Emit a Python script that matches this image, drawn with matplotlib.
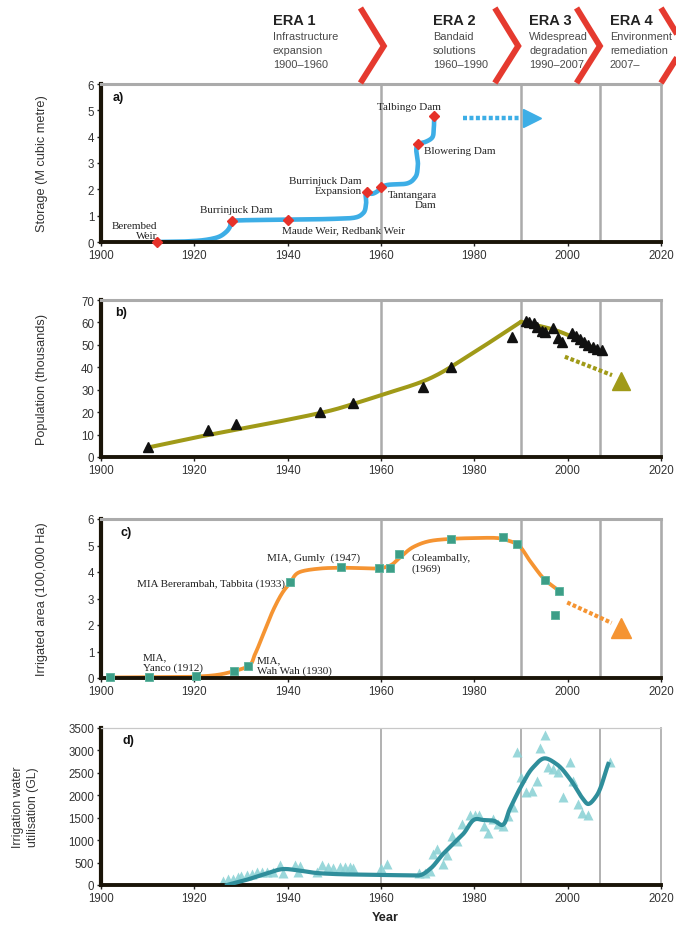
import numpy as np
import matplotlib
matplotlib.use("Agg")
import matplotlib.pyplot as plt
from matplotlib.transforms import blended_transform_factory

plt.rcParams["font.family"] = ["Liberation Sans", "DejaVu Sans"]

# ---------------- data ----------------
year_range = (1900, 2020)
era_ends = [1960, 1990, 2007]
era_titles = ["ERA 1", "ERA 2", "ERA 3", "ERA 4"]
era_texts = ["Infrastructure\nexpansion\n1900\u20131960",
             "Bandaid\nsolutions\n1960\u20131990",
             "Widespread\ndegradation\n1990\u20132007",
             "Environment\nremediation\n2007\u2013"]

# a) storage
dam_names = ["Berembed\nWeir", "Burrinjuck Dam", "Maude Weir, Redbank Weir",
             "Burrinjuck Dam\nExpansion", "Tantangara\nDam", "Blowering Dam",
             "Talbingo Dam"]
dam_years = [1912, 1928, 1940, 1957, 1960, 1968, 1971.4]
dam_storage = [0.0, 0.80, 0.85, 1.88, 2.08, 3.72, 4.78]
storage_years = [1912, 1918, 1922, 1925, 1926.8, 1927.7, 1928,
                 1929.5, 1940, 1950, 1954.5, 1956.2, 1956.8, 1957,
                 1958, 1959.2, 1960, 1961.5, 1965.5, 1967.3, 1967.9, 1968,
                 1969.5, 1970.9, 1971.3, 1971.4]
storage_values = [0.0, 0.02, 0.07, 0.18, 0.38, 0.60, 0.80,
                  0.82, 0.85, 0.88, 0.93, 1.10, 1.45, 1.88,
                  1.83, 1.92, 2.08, 2.17, 2.22, 2.45, 2.90, 3.72,
                  3.80, 3.95, 4.30, 4.78]
storage_trend_years = [1977.6, 1990.0, 1992.3]
storage_trend_values = [4.72, 4.72, 4.72]

# b) population
pop_years = [1910, 1923, 1929, 1947, 1954, 1969, 1975, 1988, 1991, 1991.8,
             1992.7, 1993.5, 1994.4, 1995.1, 1996.9, 1998.0, 1998.7, 2000.9,
             2001.8, 2002.6, 2003.5, 2004.4, 2005.4, 2006.2, 2007.3]
pop_values = [4.6, 12.0, 14.7, 19.9, 23.9, 31.1, 40.0, 53.5, 60.8, 60.3,
              59.6, 58.1, 56.3, 55.6, 57.4, 52.9, 51.4, 55.1,
              53.8, 52.6, 51.4, 49.9, 48.9, 48.2, 47.7]
# fitted growth (to the 1990 peak) and decline (after it)
pop_rise_years = [1910, 1920, 1930, 1940, 1949, 1954, 1960, 1970, 1980, 1990]
pop_rise_values = [4.2, 8.6, 12.6, 16.6, 20.6, 23.6, 27.6, 34.6, 46.8, 60.3]
pop_fall_years = [1990, 1996.6, 2000.5, 2006.2]
pop_fall_values = [60.3, 57.0, 54.0, 47.8]
pop_trend_years = [1999.4, 2009.5, 2011.4]
pop_trend_values = [44.7, 36.5, 34.0]

# c) irrigated area
irr_years = [1902, 1910.3, 1920.4, 1928.5, 1931.6, 1940.5, 1951.5, 1959.6,
             1961.9, 1963.9, 1974.9, 1986.1, 1989.2, 1995.1, 1998.1, 1997.3]
irr_values = [0.03, 0.04, 0.06, 0.28, 0.44, 3.62, 4.19, 4.16,
              4.16, 4.69, 5.25, 5.32, 5.04, 3.71, 3.30, 2.36]
irr_fit_years = [1902, 1910, 1920, 1925, 1928.5, 1931.6, 1933, 1935, 1937,
                 1939, 1940.5, 1942.6, 1946.9, 1951.5, 1955, 1959.6, 1961.9,
                 1963.9, 1967, 1970.5, 1975, 1980, 1985, 1987, 1989.2, 1992,
                 1995.1, 1998.1]
irr_fit_values = [0.02, 0.03, 0.05, 0.12, 0.26, 0.45, 0.90, 1.75, 2.60,
                  3.25, 3.58, 4.00, 4.13, 4.16, 4.15, 4.14, 4.24,
                  4.52, 4.95, 5.17, 5.25, 5.28, 5.28, 5.20, 5.04, 4.40,
                  3.71, 3.30]
irr_trend_years = [1999.9, 2009.4, 2011.4]
irr_trend_values = [2.85, 2.08, 1.89]
irr_notes = ["MIA,\nYanco (1912)", "MIA,\nWah Wah (1930)",
             "MIA Bererambah, Tabbita (1933)", "MIA, Gumly  (1947)",
             "Coleambally,\n(1969)"]

# d) irrigation water utilisation
water_years = [1926.2, 1927.3, 1928.3, 1929.4, 1930.1, 1931.2, 1932.3, 1933.4,
               1934.4, 1935.5, 1936.9, 1938.4, 1939.1, 1941.6, 1942.2, 1942.6,
               1946.2, 1947.3, 1948.7, 1949.8, 1951.2, 1952.3, 1953.4, 1954.1,
               1960.1, 1961.2, 1968.2, 1969.4, 1970.5, 1971.2, 1972.1, 1973.2,
               1974.1, 1975.2, 1976.2, 1977.3, 1979.1, 1980.1, 1981.1, 1982.1,
               1983.0, 1984.1, 1985.1, 1986.2, 1987.3, 1988.2, 1989.2, 1990.1,
               1991.1, 1992.3, 1993.4, 1994.1, 1995.1, 1995.8, 1996.8, 1998.0,
               1999.1, 2000.4, 2001.2, 2002.3, 2003.0, 2004.4, 2009.1]
water_values = [96, 134, 134, 171, 193, 223, 245, 282,
                282, 282, 282, 446, 268, 446, 290, 431,
                282, 446, 394, 372, 394, 394, 394, 372,
                372, 468, 268, 268, 319, 691, 802, 468,
                669, 1100, 987, 1360, 1560, 1560, 1560, 1308,
                1152, 1471, 1360, 1322, 1545, 1732, 2958, 2400,
                2080, 2102, 2325, 3047, 3344, 2624, 2586, 2526,
                1955, 2735, 2325, 1806, 1605, 1560, 2748]
water_fit_years = [1927, 1931, 1935, 1939, 1942, 1946, 1950, 1955, 1960,
                   1966, 1968.2, 1970.5, 1973.3, 1977.6, 1980.4, 1981.9,
                   1984.1, 1985.9, 1987.6, 1990.1, 1992.6, 1995.1, 1997.6,
                   2000.5, 2003.3, 2004.4, 2006.2, 2008.7]
water_fit_values = [0, 110, 240, 355, 330, 270, 245, 232, 225,
                    215, 215, 357, 691, 1137, 1471, 1449,
                    1434, 1337, 1694, 2214, 2623, 2824, 2697,
                    2363, 1917, 1806, 1991, 2697]


# ---------------- helpers ----------------
def smooth_curve(xs, ys, ymax, n=24):
    """Centripetal Catmull-Rom spline through the given knots."""
    xs = np.asarray(xs, float)
    ys = np.asarray(ys, float)
    P = np.column_stack([(xs - year_range[0]) / (year_range[1] - year_range[0]),
                         ys / ymax])
    P = np.vstack([2 * P[0] - P[1], P, 2 * P[-1] - P[-2]])
    out = []
    for i in range(1, len(P) - 2):
        p0, p1, p2, p3 = P[i - 1:i + 3]
        t0 = 0.0
        t1 = t0 + max(np.linalg.norm(p1 - p0), 1e-9) ** 0.5
        t2 = t1 + max(np.linalg.norm(p2 - p1), 1e-9) ** 0.5
        t3 = t2 + max(np.linalg.norm(p3 - p2), 1e-9) ** 0.5
        t = np.linspace(t1, t2, n, endpoint=False)[:, None]
        A1 = (t1 - t) / (t1 - t0) * p0 + (t - t0) / (t1 - t0) * p1
        A2 = (t2 - t) / (t2 - t1) * p1 + (t - t1) / (t2 - t1) * p2
        A3 = (t3 - t) / (t3 - t2) * p2 + (t - t2) / (t3 - t2) * p3
        B1 = (t2 - t) / (t2 - t0) * A1 + (t - t0) / (t2 - t0) * A2
        B2 = (t3 - t) / (t3 - t1) * A2 + (t - t1) / (t3 - t1) * A3
        out.append((t2 - t) / (t2 - t1) * B1 + (t - t1) / (t2 - t1) * B2)
    out.append(P[-2][None])
    pts = np.vstack(out)
    return (pts[:, 0] * (year_range[1] - year_range[0]) + year_range[0],
            pts[:, 1] * ymax)


W, H = 676, 929
fig = plt.figure(figsize=(W / 100, H / 100), dpi=100)


def px_axes(left, top, right, bottom):
    return fig.add_axes([left / W, 1 - bottom / H, (right - left) / W,
                         (bottom - top) / H])


TICK_COLOR = "#333333"
SERIF = ["Liberation Serif", "DejaVu Serif"]


def style_axes(ax, ymax, ystep, thin=False):
    ax.set_xlim(*year_range)
    ax.set_ylim(0, ymax)
    ax.set_xticks(np.arange(1900, 2021, 20))
    ax.set_yticks(np.arange(0, ymax + ystep / 2, ystep))
    ax.spines["left"].set_color("#1a1408")
    ax.spines["left"].set_linewidth(3.0)
    ax.spines["bottom"].set_color("#1a1408")
    ax.spines["bottom"].set_linewidth(2.8)
    if thin:
        ax.spines["top"].set_color("#c8c8c8")
        ax.spines["top"].set_linewidth(0.9)
        ax.spines["right"].set_color("#b0b0b0")
        ax.spines["right"].set_linewidth(1.3)
    else:
        ax.spines["top"].set_color("#ababab")
        ax.spines["top"].set_linewidth(2.2)
        ax.spines["right"].set_color("#ababab")
        ax.spines["right"].set_linewidth(1.9)
    ax.tick_params(axis="both", labelsize=8.3, labelcolor=TICK_COLOR,
                   color="#222222", length=3, width=1.0, pad=2)
    for yr in era_ends:
        ax.axvline(yr, color="#ababab", lw=1.3 if thin else 1.8, zorder=0.5)


note_kw = dict(fontsize=8, family=SERIF, color="#222222", zorder=4)
ML = 1.15  # line spacing for two-line notes

# ---------------- panel a ----------------
ax_a = px_axes(101, 85, 661, 243)
style_axes(ax_a, 6, 1)
cx, cy = smooth_curve(storage_years, storage_values, 6, n=10)
ax_a.plot(cx, cy, color="#3daee6", lw=3.3, solid_capstyle="round", zorder=2)
ax_a.plot(dam_years, dam_storage, "D", color="#e6322a", ms=4.8, zorder=3,
          clip_on=False)
ax_a.plot(storage_trend_years[:2], storage_trend_values[:2], color="#3daee6",
          lw=3.2, linestyle=(0, (0.9, 0.55)), zorder=2)
ax_a.plot(storage_trend_years[2], storage_trend_values[2], ">",
          color="#3daee6", ms=13, zorder=3)
ax_a.text(1912, 0.42, dam_names[0], ha="right", va="center",
          multialignment="right", linespacing=ML, **note_kw)
ax_a.text(1929.0, 1.23, dam_names[1], ha="center", va="center", **note_kw)
ax_a.text(1938.7, 0.46, dam_names[2], ha="left", va="center", **note_kw)
ax_a.text(1955.9, 2.15, dam_names[3], ha="right", va="center",
          multialignment="right", linespacing=ML, **note_kw)
ax_a.text(1971.9, 1.62, dam_names[4], ha="right", va="center",
          multialignment="right", linespacing=ML, **note_kw)
ax_a.text(1969.2, 3.49, dam_names[5], ha="left", va="center", **note_kw)
ax_a.text(1966.0, 5.15, dam_names[6], ha="center", va="center", **note_kw)
ax_a.set_ylabel("Storage (M cubic metre)", fontsize=9.2, color="#333333")
ax_a.yaxis.set_label_coords(-0.095, 0.5)

# ---------------- panel b ----------------
ax_b = px_axes(101, 301, 661, 458)
style_axes(ax_b, 70, 10)
for ys_, vs_ in [(pop_rise_years, pop_rise_values),
                 (pop_fall_years, pop_fall_values)]:
    cx, cy = smooth_curve(ys_, vs_, 70)
    ax_b.plot(cx, cy, color="#a09a18", lw=2.9, zorder=2,
              solid_capstyle="round")
ax_b.plot(pop_years, pop_values, "^", color="#111111", ms=7, zorder=3)
ax_b.plot(pop_trend_years[:2], pop_trend_values[:2], color="#a09a18",
          lw=3.0, linestyle=(0, (0.9, 0.55)), zorder=2)
ax_b.plot(pop_trend_years[2], pop_trend_values[2], "^", color="#a09a18",
          ms=13, zorder=3)
ax_b.set_ylabel("Population (thousands)", fontsize=9.2, color="#333333")
ax_b.yaxis.set_label_coords(-0.095, 0.5)

# ---------------- panel c ----------------
ax_c = px_axes(101, 520, 661, 679)
style_axes(ax_c, 6, 1)
cx, cy = smooth_curve(irr_fit_years, irr_fit_values, 6)
ax_c.plot(cx, cy, color="#f59432", lw=2.7, zorder=2)
ax_c.plot(irr_years, irr_values, "s", mfc="#3c9e87", mec="#63b5a0",
          mew=0.7, ms=6, zorder=3, clip_on=False)
ax_c.plot(irr_trend_years[:2], irr_trend_values[:2], color="#f59432",
          lw=3.0, linestyle=(0, (0.9, 0.55)), zorder=2)
ax_c.plot(irr_trend_years[2], irr_trend_values[2], "^", color="#f59432",
          ms=15, zorder=3)
ax_c.text(1908.9, 0.60, irr_notes[0], ha="left", va="center",
          linespacing=ML, **note_kw)
ax_c.text(1933.4, 0.47, irr_notes[1], ha="left", va="center",
          linespacing=ML, **note_kw)
ax_c.text(1939.4, 3.58, irr_notes[2], ha="right", va="center", **note_kw)
ax_c.text(1935.5, 4.55, irr_notes[3], ha="left", va="center", **note_kw)
ax_c.text(1966.6, 4.33, irr_notes[4], ha="left", va="center",
          linespacing=ML, **note_kw)
ax_c.set_ylabel("Irrigated area (100,000 Ha)", fontsize=9.2, color="#333333")
ax_c.yaxis.set_label_coords(-0.095, 0.5)

# ---------------- panel d ----------------
ax_d = px_axes(101, 729, 661, 886)
style_axes(ax_d, 3500, 500, thin=True)
ax_d.plot(water_years, water_values, "^", color="#8ed3d6", alpha=0.9,
          ms=6.5, mec="none", zorder=2)
cx, cy = smooth_curve(water_fit_years, water_fit_values, 3500)
ax_d.plot(cx, cy, color="#2f8e9b", lw=3.0, zorder=3)
ax_d.set_ylabel("Irrigation water\nutilisation (GL)", fontsize=8.8,
                color="#333333", linespacing=1.4)
ax_d.yaxis.set_label_coords(-0.11, 0.5)
fig.text(385 / W, 1 - 918 / H, "Year", ha="center", va="center",
         fontsize=9.2, fontweight="bold", color="#222222")

# panel letters
for ax, letter, (fx, fy) in [(ax_a, "a)", (0.021, 0.918)),
                             (ax_b, "b)", (0.025, 0.924)),
                             (ax_c, "c)", (0.034, 0.918)),
                             (ax_d, "d)", (0.039, 0.924))]:
    ax.text(fx, fy, letter, transform=ax.transAxes, ha="left", va="center",
            fontsize=9, fontweight="bold", color="#111111")

# ---------------- era header ----------------
era_left_px = [272.7, 432.7, 529.3, 610.0]
for xpx, title, sub in zip(era_left_px, era_titles, era_texts):
    fig.text(xpx / W, 1 - 21 / H, title, ha="left", va="center",
             fontsize=10.5, fontweight="bold", color="#222222")
    fig.text(xpx / W, 1 - 50.5 / H, sub, ha="left", va="center",
             fontsize=7.9, color="#4a4a4a", linespacing=1.5)

hdr = blended_transform_factory(ax_a.transData, fig.transFigure)
chevron_tips = [1960.6, 1989.4, 2006.9, 2025.0]
for tip in chevron_tips:
    ax_a.plot([tip - 5.0, tip, tip - 5.0],
              [1 - 9 / H, 1 - 47 / H, 1 - 84 / H], transform=hdr,
              color="#e53a2f", lw=4.3, solid_joinstyle="miter",
              solid_capstyle="butt", clip_on=False, zorder=10)

fig.savefig("out.png", dpi=100, facecolor="white")
